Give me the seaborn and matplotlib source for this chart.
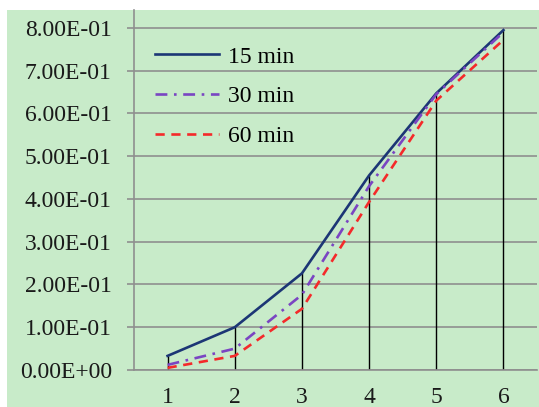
import pandas as pd
import numpy as np
import matplotlib
matplotlib.use('Agg')
import matplotlib.pyplot as plt
from matplotlib.patches import Rectangle
import seaborn as sns

# values
steps = [1, 2, 3, 4, 5, 6]
min15 = [0.033, 0.100, 0.226, 0.455, 0.647, 0.795]
min30 = [0.012, 0.050, 0.176, 0.430, 0.645, 0.790]
min60 = [0.005, 0.033, 0.143, 0.393, 0.630, 0.772]
series_names = ['15 min', '30 min', '60 min']
y_ticks = [0.0, 0.1, 0.2, 0.3, 0.4, 0.5, 0.6, 0.7, 0.8]
y_ticklabels = ['0.00E+00', '1.00E-01', '2.00E-01', '3.00E-01', '4.00E-01',
                '5.00E-01', '6.00E-01', '7.00E-01', '8.00E-01']

df = pd.DataFrame({
    'step': steps * 3,
    'value': min15 + min30 + min60,
    'series': [s for s in series_names for _ in steps],
})

plt.rcParams['font.family'] = ['Liberation Serif', 'DejaVu Serif']
plt.rcParams['font.size'] = 17

green = '#c8ebc9'
grid_grey = '#8f8f8f'
colors = {'15 min': '#1c3675', '30 min': '#7a45c2', '60 min': '#f42a2a'}
dashes = {'15 min': '', '30 min': (4.5, 2.5, 1, 2.5), '60 min': (3.5, 2.5)}

fig = plt.figure(figsize=(5.39, 4.07), dpi=100, facecolor='white')
fig.patches.append(Rectangle((7 / 539, 0), 1, 1 - 10 / 407, transform=fig.transFigure,
                             facecolor=green, edgecolor='none', zorder=-10))
ax = fig.add_axes([134 / 539, 1 - 370 / 407, 403 / 539, 360 / 407])
ax.set_facecolor(green)

# drop lines from the 15 min curve
ax.vlines(steps, 0, min15, colors='black', lw=1.0, zorder=2)

sns.lineplot(data=df, x='step', y='value', hue='series', style='series',
             palette=colors, dashes=dashes, linewidth=1.9, ax=ax, zorder=3)

ax.set_xlim(0.5, 6.5)
ax.set_ylim(0, 0.842)
ax.set_yticks(y_ticks)
ax.set_yticklabels(y_ticklabels)
ax.set_xticks(steps)
ax.set_xticklabels([str(s) for s in steps])
ax.set_xlabel('')
ax.set_ylabel('')

ax.grid(axis='y', color=grid_grey, lw=1.2)
ax.set_axisbelow(True)
for side in ['top', 'right']:
    ax.spines[side].set_visible(False)
ax.spines['left'].set_color(grid_grey)
ax.spines['left'].set_linewidth(1.2)
ax.spines['bottom'].set_color(grid_grey)
ax.spines['bottom'].set_linewidth(1.2)
ax.tick_params(axis='y', length=5, width=1.2, color=grid_grey, pad=11, labelcolor='#1a1a1a')
ax.tick_params(axis='x', length=0, pad=12, labelcolor='#1a1a1a')

handles, labels = ax.get_legend_handles_labels()
ax.legend(handles, labels, loc='upper left', bbox_to_anchor=(0.052, 0.9), frameon=False,
          borderpad=0, borderaxespad=0, handlelength=2.7, handletextpad=0.4,
          labelspacing=0.78, fontsize=17)

fig.savefig('out.png', dpi=100)
